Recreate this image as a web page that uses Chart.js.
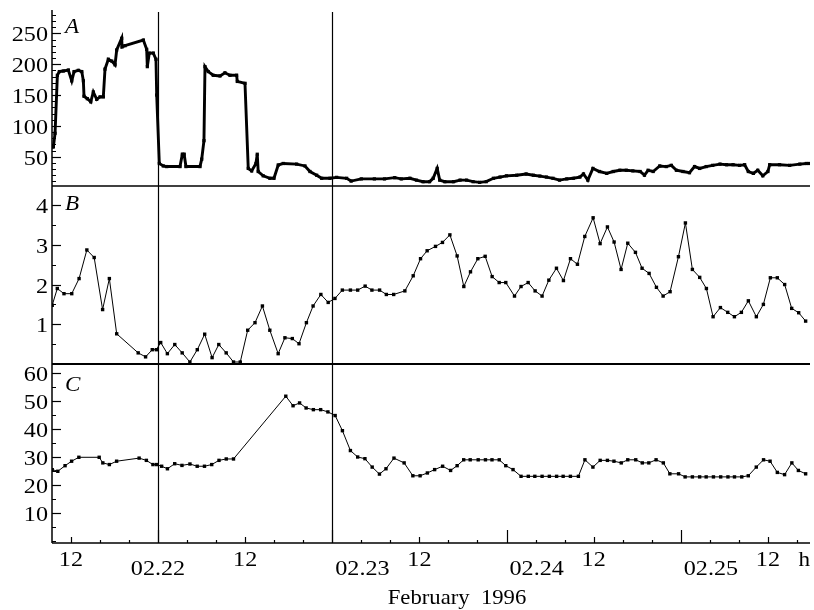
<!DOCTYPE html>
<html>
<head>
<meta charset="utf-8">
<script src="https://cdn.jsdelivr.net/npm/chart.js@4.4.1/dist/chart.umd.min.js"></script>
<style>
  html, body { margin: 0; padding: 0; background: #fff; }
  canvas { display: block; }
  .probe { position: absolute; left: -999px; font-family: "Liberation Serif"; }
</style>
</head>
<body>
<span class="probe">0123456789 ABC <i>ABC</i></span>
<canvas id="chart" width="814" height="610"></canvas>
<script>
// time axis: hours counted from 02.21 00:00
const xMin = 9.4, xMax = 113.8;

// panel A
const aHours = [9.45, 9.59, 9.82, 10.14, 10.41, 10.96, 11.65, 12.12, 12.44, 13.03,
  13.5, 13.72, 13.81, 14.27, 14.74, 15.09, 15.56, 16.02, 16.47, 16.7,
  17.16, 17.63, 18.08, 18.31, 19.0, 19.05, 19.46, 21.98, 22.44, 22.53,
  22.8, 23.35, 23.72, 23.82, 24.18, 24.73, 25.2, 27.03, 27.35, 27.6,
  27.85, 29.78, 30.02, 30.33, 30.47, 30.92, 31.61, 32.54, 33.22, 33.91,
  34.83, 34.92, 35.98, 36.43, 36.9, 37.49, 37.67, 37.8, 38.49, 39.41,
  39.97, 40.56, 41.25, 43.09, 44.24, 44.93, 45.85, 46.54, 47.68, 48.6,
  49.98, 50.6, 52.0, 53.8, 55.2, 56.6, 57.5, 58.7, 59.6, 60.5,
  61.4, 61.9, 62.45, 62.8, 63.5, 64.7, 65.6, 66.5, 67.4, 68.3,
  69.2, 70.2, 71.1, 72.0, 73.4, 74.7, 75.7, 76.6, 77.5, 78.4,
  79.3, 80.3, 81.2, 82.1, 82.6, 83.2, 83.9, 84.8, 85.8, 86.7,
  87.6, 88.5, 89.4, 90.4, 91.0, 91.5, 92.2, 93.1, 94.0, 94.7,
  95.4, 96.3, 97.2, 97.9, 98.6, 99.5, 100.4, 101.4, 102.3, 103.2,
  104.1, 104.8, 105.3, 106.0, 106.6, 107.3, 108.0, 108.25, 109.6, 111.0,
  112.4, 113.3, 113.7];
const aValues = [66, 66, 88, 182, 188, 189, 190.5, 173, 188, 190,
  188, 173, 148, 144, 139, 155, 143, 147, 147, 192,
  208, 205, 199, 223, 242, 228, 230, 239, 224, 196,
  218, 218, 208, 150, 39, 35, 34, 34, 54, 54,
  34, 34, 46, 76, 196, 188, 182, 181, 186, 182,
  182, 172, 169, 31, 27, 39, 54, 26, 19, 15,
  15, 36.5, 39, 38, 35, 26, 20, 15, 15, 16.5,
  15, 10.5, 14, 14, 14, 16, 14, 15, 12, 9.5,
  9.5, 15, 31, 12, 9.5, 9.5, 12, 12, 9.5, 8.4,
  9.5, 15, 17, 19, 20, 22, 20, 18.6, 17, 15,
  12, 14, 15, 17, 22, 12, 31, 26, 23, 26,
  28, 28, 27, 26, 20, 28, 26, 35, 34, 36,
  28, 26, 24, 34, 31, 34, 36, 38, 37, 37,
  36, 37, 26, 23, 28, 19, 26, 37, 37, 36,
  38, 39, 39];

// panel B
const bHours = [9.43, 10.13, 11.05, 12.12, 13.13, 14.2, 15.21, 16.37, 17.3, 18.31,
  21.27, 22.29, 23.21, 23.77, 24.37, 25.29, 26.31, 27.33, 28.39, 29.41,
  30.43, 31.45, 32.37, 33.39, 34.4, 35.33, 36.35, 37.36, 38.38, 39.4,
  40.55, 41.48, 42.5, 43.42, 44.44, 45.36, 46.43, 47.44, 48.37, 49.39,
  50.5, 51.5, 52.53, 53.46, 54.52, 55.45, 56.46, 58.0, 59.15, 60.16,
  61.07, 62.22, 63.18, 64.2, 65.2, 66.12, 67.04, 68.05, 69.06, 70.02,
  70.99, 71.9, 73.1, 74.0, 74.98, 75.94, 76.9, 77.83, 78.88, 79.84,
  80.81, 81.77, 82.78, 83.93, 84.89, 85.9, 86.82, 87.78, 88.7, 89.76,
  90.67, 91.64, 92.65, 93.57, 94.53, 95.68, 96.64, 97.6, 98.61, 99.53,
  100.45, 101.46, 102.47, 103.39, 104.35, 105.31, 106.41, 107.38, 108.34, 109.3,
  110.31, 111.28, 112.24, 113.2];
const bValues = [1.48, 1.9, 1.77, 1.77, 2.15, 2.87, 2.68, 1.37, 2.15, 0.76,
  0.28, 0.18, 0.36, 0.36, 0.54, 0.26, 0.49, 0.28, 0.05, 0.36,
  0.75, 0.16, 0.49, 0.28, 0.05, 0.05, 0.85, 1.04, 1.46, 0.85,
  0.26, 0.66, 0.64, 0.51, 1.04, 1.46, 1.75, 1.55, 1.65, 1.86,
  1.86, 1.86, 1.96, 1.86, 1.86, 1.75, 1.75, 1.84, 2.22, 2.65,
  2.85, 2.96, 3.06, 3.25, 2.72, 1.95, 2.32, 2.65, 2.71, 2.2,
  2.05, 2.05, 1.71, 1.95, 2.05, 1.84, 1.71, 2.11, 2.41, 2.1,
  2.65, 2.51, 3.21, 3.68, 3.03, 3.45, 3.07, 2.38, 3.04, 2.81,
  2.41, 2.28, 1.93, 1.71, 1.82, 2.7, 3.55, 2.38, 2.18, 1.9,
  1.19, 1.42, 1.3, 1.19, 1.3, 1.59, 1.19, 1.5, 2.17, 2.17,
  2.0, 1.4, 1.29, 1.08];

// panel C
const cHours = [9.43, 10.2, 11.2, 12.1, 13.1, 15.9, 16.4, 17.3, 18.3, 21.4,
  22.4, 23.3, 23.8, 24.5, 25.3, 26.3, 27.3, 28.4, 29.4, 30.4,
  31.4, 32.4, 33.4, 34.4, 41.6, 42.6, 43.5, 44.4, 45.4, 46.4,
  47.4, 48.4, 49.4, 50.5, 51.5, 52.5, 53.5, 54.5, 55.4, 56.5,
  57.9, 59.1, 60.1, 61.1, 62.1, 63.2, 64.3, 65.2, 66.1, 67.0,
  68.1, 69.1, 70.0, 71.0, 71.9, 72.9, 74.0, 75.0, 75.9, 76.9,
  77.9, 78.9, 79.8, 80.8, 81.9, 82.8, 83.9, 84.9, 85.9, 86.8,
  87.8, 88.7, 89.8, 90.7, 91.6, 92.6, 93.6, 94.5, 95.7, 96.6,
  97.6, 98.6, 99.5, 100.5, 101.5, 102.5, 103.4, 104.4, 105.3, 106.4,
  107.4, 108.3, 109.3, 110.3, 111.3, 112.2, 113.2];
const cValues = [25.5, 24.9, 26.9, 28.5, 29.9, 29.9, 27.9, 27.3, 28.5, 29.6,
  28.8, 27.3, 27.3, 26.7, 25.8, 27.6, 27.0, 27.5, 26.7, 26.7,
  27.3, 28.8, 29.3, 29.3, 51.7, 48.3, 49.3, 47.5, 46.9, 46.9,
  46.1, 44.8, 39.4, 32.3, 30.0, 29.4, 26.4, 23.9, 25.8, 29.6,
  27.9, 23.3, 23.3, 24.3, 25.5, 26.7, 25.2, 26.9, 29.0, 29.0,
  29.0, 29.0, 29.0, 29.0, 26.9, 25.5, 23.1, 23.1, 23.1, 23.1,
  23.1, 23.1, 23.1, 23.1, 23.1, 29.0, 26.4, 28.8, 28.8, 28.5,
  27.9, 29.0, 29.0, 27.9, 27.9, 29.0, 27.9, 24.0, 24.0, 22.9,
  22.9, 22.9, 22.9, 22.9, 22.9, 22.9, 22.9, 22.9, 23.3, 26.4,
  29.0, 28.5, 24.5, 23.7, 27.9, 25.2, 24.0];

// tick labels
const aTicks = [50, 100, 150, 200, 250];
const bTicks = [1, 2, 3, 4];
const cTicks = [10, 20, 30, 40, 50, 60];
const xTickHours = [12, 24, 36, 48, 60, 72, 84, 96, 108];
const xTickLabels = ['12', '02.22', '12', '02.23', '12', '02.24', '12', '02.25', '12'];
const markerHours = [24, 48];

const SERIF = '"Liberation Serif", serif';

function points(hours, values) {
  return hours.map((h, i) => ({ x: h, y: values[i] }));
}

// Times-like text, a bit wider like the scanned figure
function drawText(ctx, s, x, y, align, size, opts) {
  opts = opts || {};
  ctx.save();
  ctx.font = (opts.italic ? 'italic ' : '') + size + 'px ' + SERIF;
  ctx.textAlign = align;
  ctx.textBaseline = 'alphabetic';
  ctx.fillStyle = '#000';
  ctx.translate(x, y);
  ctx.scale(opts.sx || 1.15, 1);
  ctx.fillText(s, 0, 0);
  ctx.restore();
}

function line(ctx, x1, y1, x2, y2, w) {
  ctx.lineWidth = w;
  ctx.beginPath();
  ctx.moveTo(x1, y1);
  ctx.lineTo(x2, y2);
  ctx.stroke();
}

const framePlugin = {
  id: 'frame',
  afterDatasetsDraw(chart) {
    const ctx = chart.ctx;
    const xs = chart.scales.x;
    const area = chart.chartArea;
    const panels = [
      { s: chart.scales.yA, ticks: aTicks, minor: 10, name: 'A', edge: 1.3, nameY: 21 },
      { s: chart.scales.yB, ticks: bTicks, minor: 0.5, name: 'B', edge: 2.2, nameY: 24 },
      { s: chart.scales.yC, ticks: cTicks, minor: 5, name: 'C', edge: 1.6, nameY: 27 }
    ];
    ctx.save();
    ctx.strokeStyle = '#000';

    // left axis
    line(ctx, area.left, area.top - 2, area.left, area.bottom, 1.5);

    // date marker lines through all panels
    markerHours.forEach(h => {
      const px = Math.round(xs.getPixelForValue(h)) + 0.5;
      line(ctx, px, area.top, px, area.bottom, 1.2);
    });

    panels.forEach(p => {
      const s = p.s;
      // panel bottom edge
      line(ctx, area.left, s.bottom, area.right, s.bottom, p.edge);
      // minor ticks
      const start = Math.ceil(s.min / p.minor) * p.minor;
      for (let v = start; v <= s.max; v += p.minor) {
        const py = Math.round(s.getPixelForValue(v)) + 0.5;
        line(ctx, area.left, py, area.left + 4, py, 1);
      }
      // major ticks and labels
      p.ticks.forEach(v => {
        const py = Math.round(s.getPixelForValue(v)) + 0.5;
        line(ctx, area.left, py, area.left + 9, py, 1.2);
        drawText(ctx, String(v), area.left - 4, py + 7, 'right', 21);
      });
      // panel letter
      drawText(ctx, p.name, area.left + 13, s.top + p.nameY, 'left', 21, { italic: true, sx: 1.1 });
    });

    // time ticks on the bottom axis, every 4 hours
    for (let h = Math.ceil(xMin / 4) * 4; h <= xMax; h += 4) {
      const px = Math.round(xs.getPixelForValue(h)) + 0.5;
      const len = h % 24 === 0 ? 13 : (h % 12 === 0 ? 6 : 3);
      line(ctx, px, area.bottom, px, area.bottom - len, 1.2);
    }

    // time labels: the first date is centred, later dates start at their day tick
    xTickHours.forEach((h, i) => {
      const px = xs.getPixelForValue(h);
      const label = xTickLabels[i];
      if (label === '12') {
        drawText(ctx, label, px, area.bottom + 23, 'center', 21);
      } else if (i === 1) {
        drawText(ctx, label, px, area.bottom + 32, 'center', 21);
      } else {
        drawText(ctx, label, px + 3, area.bottom + 32, 'left', 21);
      }
    });
    drawText(ctx, 'h', area.right, area.bottom + 23, 'right', 21, { sx: 1.1 });
    drawText(ctx, 'February  1996', 457, 604, 'center', 21, { sx: 1.08 });

    ctx.restore();
  }
};

function panelAxis(min, max, weight) {
  return {
    type: 'linear',
    position: 'left',
    stack: 'panels',
    stackWeight: weight,
    min: min,
    max: max,
    grid: { display: false, drawTicks: false },
    border: { display: false },
    ticks: { display: false },
    afterFit(scale) { scale.width = 52; }
  };
}

function series(data, axis, width, radius) {
  return {
    data: data,
    yAxisID: axis,
    borderColor: '#000',
    backgroundColor: '#000',
    borderWidth: width,
    pointStyle: 'rect',
    pointRadius: radius,
    pointBorderWidth: 0,
    pointBackgroundColor: '#000',
    fill: false,
    tension: 0
  };
}

function build() {
  new Chart(document.getElementById('chart'), {
    type: 'line',
    data: {
      datasets: [
        series(points(aHours, aValues), 'yA', 2.9, 2.3),
        series(points(bHours, bValues), 'yB', 1, 2.4),
        series(points(cHours, cValues), 'yC', 1, 2.4)
      ]
    },
    options: {
      responsive: false,
      animation: false,
      devicePixelRatio: 1,
      layout: { padding: { top: 12, right: 3, bottom: 67, left: 0 } },
      plugins: { legend: { display: false }, tooltip: { enabled: false } },
      scales: {
        x: { type: 'linear', min: xMin, max: xMax, display: false },
        // stacked axes are laid out bottom-up
        yC: panelAxis(-0.7, 63.2, 179),
        yB: panelAxis(0, 4.48, 178),
        yA: panelAxis(2.5, 284.6, 174)
      }
    },
    plugins: [framePlugin]
  });
}

Promise.all([
  document.fonts.load('21px "Liberation Serif"'),
  document.fonts.load('italic 21px "Liberation Serif"')
]).then(build, build);
</script>
</body>
</html>
